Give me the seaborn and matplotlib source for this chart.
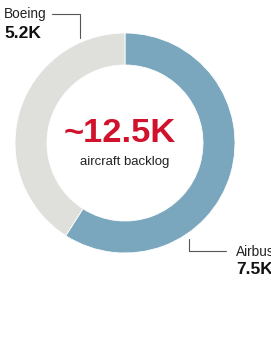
import matplotlib.pyplot as plt
import seaborn as sns

makers = ["Airbus", "Boeing"]
backlog_k = [7.5, 5.2]
total_label = "~12.5K"
subtitle = "aircraft backlog"

sns.set_theme(style="white")
plt.rcParams['font.family'] = ['Liberation Sans', 'DejaVu Sans']

W, H = 271, 337
colors = ["#7aa7bd", "#dfdfdb"]


def fy(y):
    # picture rows run downwards, axes y runs upwards
    return H - y


fig = plt.figure(figsize=(W / 100, H / 100), dpi=100)
ax = fig.add_axes([0, 0, 1, 1])

ax.pie(backlog_k, colors=colors, startangle=90, counterclock=False,
       radius=110, center=(125, fy(143)),
       wedgeprops=dict(width=32, edgecolor="white", linewidth=0.6))

ax.set_xlim(0, W)
ax.set_ylim(0, H)
ax.set_aspect("equal")
ax.axis("off")

# centre text
ax.text(120, fy(133), total_label, color="#d0122c", fontsize=24.8,
        fontweight="bold", ha="center", va="center")
ax.text(125, fy(162), subtitle, color="#222222", fontsize=9.5,
        ha="center", va="center")

# Boeing label
ax.text(4, fy(14), makers[1], fontsize=9.8, color="#222222", va="center")
ax.text(4, fy(34), f"{backlog_k[1]}K", fontsize=12.5, fontweight="bold",
        color="#111111", va="center")
ax.plot([52, 80, 80], [fy(14), fy(14), fy(38)], color="#555555", lw=0.8)

# Airbus label
ax.text(236, fy(252), makers[0], fontsize=9.8, color="#222222", va="center")
ax.text(236, fy(269), f"{backlog_k[0]}K", fontsize=12.5, fontweight="bold",
        color="#111111", va="center")
ax.plot([189, 189, 226], [fy(239), fy(251), fy(251)], color="#555555", lw=0.8)

fig.savefig("out.png", dpi=100, facecolor="white")
